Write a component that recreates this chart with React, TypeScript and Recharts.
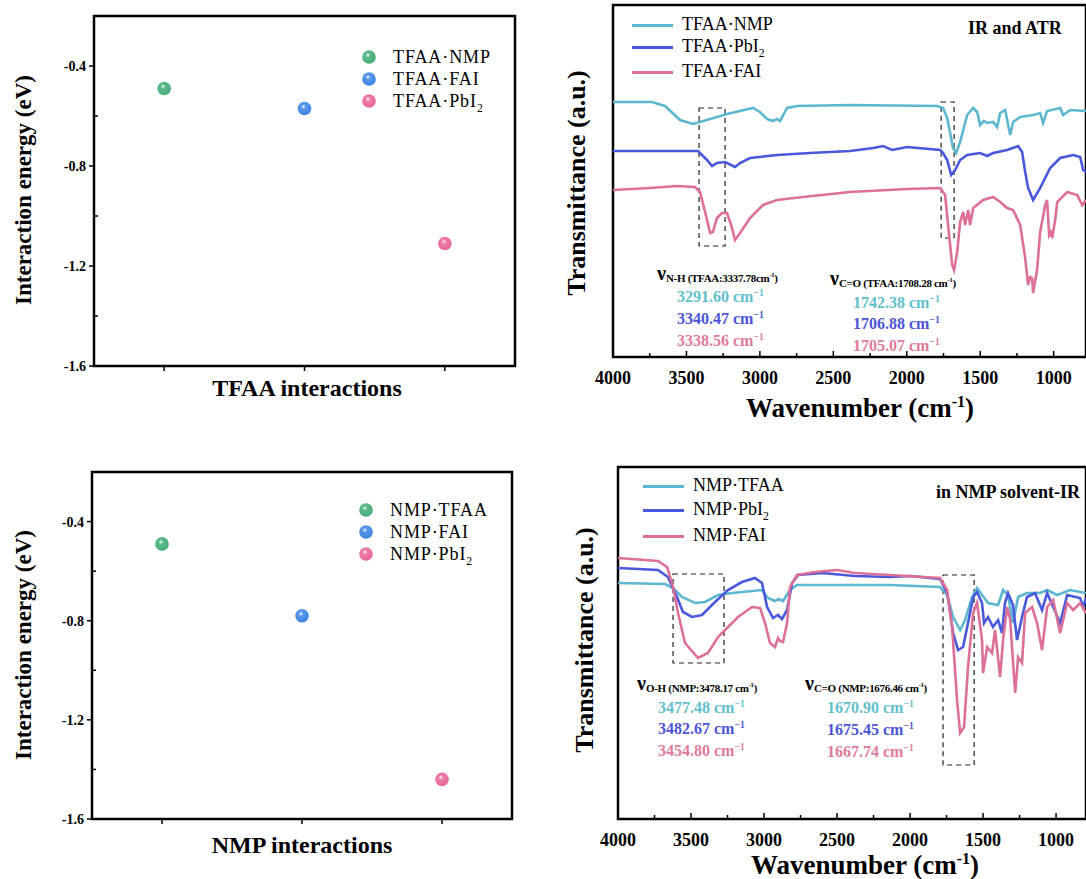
import React from 'react';
import { ScatterChart, Scatter, LineChart, Line, XAxis, YAxis, ReferenceArea } from 'recharts';

const FONT = '"Liberation Serif", "Times New Roman", serif';

// interaction energies (eV)
const tfaaPairs = ['TFAA·NMP', 'TFAA·FAI', 'TFAA·PbI2'];
const tfaaEnergy = [-0.49, -0.57, -1.11];
const nmpPairs = ['NMP·TFAA', 'NMP·FAI', 'NMP·PbI2'];
const nmpEnergy = [-0.49, -0.78, -1.44];
const sphereColors = ['#43ae78', '#3b84e4', '#e9669a'];
const energyTicks = [-1.6, -1.4, -1.2, -1.0, -0.8, -0.6, -0.4];

// IR spectra: [wavenumber (cm-1), transmittance (a.u.)]
const waveTicks = [4000, 3750, 3500, 3250, 3000, 2750, 2500, 2250, 2000, 1750, 1500, 1250, 1000];
const specColors = ['#5db7cf', '#4a58dc', '#dd7099'];
const valueColors = ['#62c0cc', '#4b55d6', '#df7b9c'];

const tfaaNmp = [[4000,255],[3734,255],[3646,251],[3544,237],[3455,233],[3408,235],[3224,243],[3047,249],[3000,245],[2951,238],[2910,236],[2883,238],[2863,236],[2815,249],[2747,251],[2386,252],[1794,251],[1753,249],[1725,239],[1685,209],[1664,204],[1637,215],[1589,242],[1548,249],[1521,245],[1501,232],[1475,236],[1453,234],[1412,235],[1385,230],[1364,244],[1330,247],[1296,222],[1276,235],[1228,240],[1140,242],[1092,244],[1072,234],[1045,246],[956,249],[936,242],[888,247],[780,246]];
const tfaaPbI2 = [[4000,206],[3421,206],[3360,197],[3326,191],[3292,194],[3237,195],[3169,190],[3135,194],[3067,199],[2883,202],[2658,204],[2386,206],[2229,209],[2161,211],[2100,207],[1998,210],[1773,207],[1753,204],[1725,197],[1698,182],[1671,187],[1637,197],[1589,202],[1501,204],[1453,201],[1412,204],[1317,207],[1242,211],[1215,205],[1194,185],[1174,169],[1140,157],[1092,169],[1024,189],[956,199],[867,202],[820,200],[799,187],[780,185]];
const tfaaFai = [[4000,167],[3748,169],[3564,171],[3442,170],[3408,165],[3373,145],[3339,124],[3320,125],[3292,139],[3258,144],[3224,144],[3196,132],[3169,117],[3135,124],[3067,139],[2979,152],[2883,157],[2706,160],[2386,165],[1998,168],[1773,169],[1739,162],[1719,132],[1691,92],[1678,87],[1657,105],[1637,135],[1616,145],[1603,132],[1582,147],[1569,132],[1548,149],[1480,157],[1412,160],[1364,155],[1317,149],[1276,147],[1228,132],[1194,99],[1174,72],[1160,80],[1147,79],[1140,64],[1113,87],[1092,125],[1058,152],[1045,157],[1031,122],[1020,125],[1010,119],[990,137],[976,155],[908,165],[840,162],[806,152],[780,157]];

const nmpTfaa = [[4000,236],[3678,235],[3623,231],[3562,222],[3473,216],[3404,217],[3315,224],[3219,226],[3014,229],[2973,221],[2925,218],[2900,220],[2870,218],[2822,229],[2774,234],[2377,234],[2137,234],[1794,232],[1746,224],[1705,202],[1657,189],[1623,199],[1575,222],[1541,231],[1507,224],[1466,216],[1397,214],[1363,229],[1329,224],[1295,196],[1260,222],[1199,226],[1110,226],[1061,229],[993,224],[904,229],[795,226]];
const nmpPbI2 = [[4000,251],[3726,249],[3658,242],[3596,222],[3555,207],[3493,202],[3425,204],[3336,217],[3247,229],[3151,237],[3062,241],[3014,236],[2979,212],[2938,201],[2904,204],[2877,200],[2842,209],[2808,236],[2767,244],[2603,246],[2377,243],[2137,242],[2000,243],[1794,240],[1746,226],[1705,186],[1671,169],[1637,172],[1603,196],[1568,222],[1541,227],[1507,216],[1493,196],[1466,202],[1432,192],[1397,199],[1370,186],[1350,216],[1329,226],[1295,214],[1267,179],[1233,202],[1199,222],[1144,226],[1096,209],[1061,226],[972,196],[924,224],[835,221],[815,212],[795,221]];
const nmpFai = [[4000,261],[3726,258],[3664,252],[3623,232],[3589,206],[3541,176],[3452,161],[3384,166],[3315,182],[3267,189],[3178,202],[3082,212],[3027,211],[2993,196],[2959,176],[2925,172],[2904,181],[2890,178],[2870,177],[2842,196],[2822,232],[2774,244],[2650,247],[2500,249],[2377,246],[2137,244],[1794,241],[1746,229],[1712,192],[1678,119],[1657,86],[1630,92],[1603,152],[1568,206],[1541,216],[1507,179],[1500,146],[1472,172],[1438,166],[1418,189],[1383,142],[1363,179],[1335,212],[1315,200],[1280,126],[1260,162],[1233,156],[1212,206],[1164,212],[1130,196],[1096,169],[1061,212],[1020,219],[972,186],[924,216],[883,209],[835,216],[795,206]];

const tfaaSpecNames = ['TFAA·NMP', 'TFAA·PbI2', 'TFAA·FAI'];
const nmpSpecNames = ['NMP·TFAA', 'NMP·PbI2', 'NMP·FAI'];
const nhPeaks = ['3291.60', '3340.47', '3338.56'];
const coTfaaPeaks = ['1742.38', '1706.88', '1705.07'];
const ohPeaks = ['3477.48', '3482.67', '3454.80'];
const coNmpPeaks = ['1670.90', '1675.45', '1667.74'];

const toPts = (arr: number[][]) => arr.map(([wn, t]) => ({ wn, t }));

const Name = ({ text }: { text: string }) =>
  text.endsWith('PbI2') ? (
    <>{text.slice(0, -1)}<sub style={{ fontSize: '0.65em', lineHeight: 0 }}>2</sub></>
  ) : (
    <>{text}</>
  );

const Sphere = ({ cx, cy, color, id, r = 6.8 }: any) => (
  <g>
    <defs>
      <radialGradient id={id} cx="42%" cy="36%" r="62%">
        <stop offset="0%" stopColor="#ffffff" stopOpacity={0.95} />
        <stop offset="28%" stopColor={color} stopOpacity={0.85} />
        <stop offset="100%" stopColor={color} />
      </radialGradient>
    </defs>
    <circle cx={cx} cy={cy} r={r} fill={`url(#${id})`} />
  </g>
);

const EnergyTick = (props: any) => {
  const { x, y, payload } = props;
  const v = payload.value;
  const major = Math.round(v * 10) % 4 === 0;
  if (!major) return <line x1={x} x2={x + 4} y1={y} y2={y} stroke="#000" strokeWidth={1.5} />;
  return (
    <g>
      <line x1={x - 5} x2={x} y1={y} y2={y} stroke="#000" strokeWidth={1.5} />
      <text x={x - 8} y={y + 5} textAnchor="end" fontFamily={FONT} fontWeight="bold" fontSize={14} fill="#000">
        {v.toFixed(1)}
      </text>
    </g>
  );
};

const PairTick = (props: any) => {
  const { x, y } = props;
  return <line x1={x} x2={x} y1={y} y2={y + 5} stroke="#000" strokeWidth={1.5} />;
};

const WaveTick = (props: any) => {
  const { x, y, payload } = props;
  const major = payload.value % 500 === 0;
  return (
    <g>
      <line x1={x} x2={x} y1={y} y2={y - (major ? 6 : 4)} stroke="#000" strokeWidth={1.5} />
      {major && (
        <text x={x} y={y + 27} textAnchor="middle" fontFamily={FONT} fontWeight="bold" fontSize={18} fill="#000">
          {payload.value}
        </text>
      )}
    </g>
  );
};

const abs = (left: number, top: number, extra: any = {}) => ({
  position: 'absolute' as const,
  left,
  top,
  whiteSpace: 'nowrap' as const,
  lineHeight: 1,
  fontFamily: FONT,
  ...extra,
});

const VTitle = ({ cx, cy, size, children }: any) => (
  <div style={abs(cx, cy, { fontSize: size, fontWeight: 'bold', transform: 'translate(-50%, -50%) rotate(-90deg)' })}>
    {children}
  </div>
);

const HTitle = ({ cx, cy, size, children }: any) => (
  <div style={abs(cx, cy, { fontSize: size, fontWeight: 'bold', transform: 'translate(-50%, -50%)' })}>{children}</div>
);

const sup = { fontSize: '0.6em', verticalAlign: 'super', lineHeight: 0 };

const EnergyPanel = ({ top, names, energies, plot, legend, title, idPrefix }: any) => (
  <>
    <div style={{ position: 'absolute', left: 0, top }}>
      <ScatterChart width={530} height={plot.h} margin={plot.margin}>
        <XAxis type="number" dataKey="x" domain={[0, 3]} ticks={[0.5, 1.5, 2.5]} tick={<PairTick />}
          tickLine={false} axisLine={false} tickSize={0} tickMargin={0} height={30} interval={0} />
        <YAxis type="number" dataKey="y" domain={[-1.6, -0.2]} ticks={energyTicks} tick={<EnergyTick />}
          tickLine={false} axisLine={false} tickSize={0} tickMargin={0} width={50} interval={0} />
        <ReferenceArea x1={0} x2={3} y1={-1.6} y2={-0.2} fill="none" stroke="#000" strokeWidth={2.5} />
        {names.map((n: string, i: number) => (
          <Scatter key={n} name={n} data={[{ x: i + 0.5, y: energies[i] }]} isAnimationActive={false}
            shape={(p: any) => <Sphere cx={p.cx} cy={p.cy} color={sphereColors[i]} id={`${idPrefix}${i}`} />} />
        ))}
      </ScatterChart>
    </div>
    {names.map((n: string, i: number) => (
      <React.Fragment key={n}>
        <svg style={{ position: 'absolute', left: legend.x - 8, top: top + legend.y + i * 22 - 8 }} width={16} height={16}>
          <Sphere cx={8} cy={8} color={sphereColors[i]} id={`${idPrefix}l${i}`} />
        </svg>
        <div style={abs(legend.x + 24, top + legend.y + i * 22 - 9, { fontSize: 18, letterSpacing: 0.9 })}>
          <Name text={n} />
        </div>
      </React.Fragment>
    ))}
    <VTitle cx={23} cy={top + plot.ycenter} size={23}>Interaction energy (eV)</VTitle>
    <HTitle cx={plot.tx} cy={top + plot.ty} size={24}>{title}</HTitle>
  </>
);

const SpecPanel = ({ left, top, plot, series, names, boxes, legend, tag, groups }: any) => (
  <>
    <div style={{ position: 'absolute', left, top }}>
      <LineChart width={526} height={plot.h} margin={plot.margin}>
        <XAxis type="number" dataKey="wn" domain={[plot.wnEnd, 4000]} reversed allowDataOverflow ticks={waveTicks}
          tick={<WaveTick />} tickLine={false} axisLine={false} tickSize={0} tickMargin={0} height={plot.axisH} interval={0} />
        <YAxis type="number" hide domain={[0, 352]} allowDataOverflow />
        <ReferenceArea x1={plot.wnEnd} x2={4000} y1={0} y2={352} fill="none" stroke="#000" strokeWidth={2.5} />
        {boxes.map((b: number[], i: number) => (
          <ReferenceArea key={i} x1={b[0]} x2={b[1]} y1={b[2]} y2={b[3]} fill="none" stroke="#222"
            strokeWidth={1.2} strokeDasharray="5 4" />
        ))}
        {series.map((s: number[][], i: number) => (
          <Line key={i} data={toPts(s)} dataKey="t" type="linear" stroke={specColors[i]} strokeWidth={2.6}
            dot={false} isAnimationActive={false} />
        ))}
      </LineChart>
    </div>
    {names.map((n: string, i: number) => (
      <React.Fragment key={n}>
        <div style={{ position: 'absolute', left: legend.x, top: legend.ys[i] - 1.5, width: 41, height: 3.5, background: specColors[i] }} />
        <div style={abs(legend.x + 50, legend.ys[i] - 10, { fontSize: 18 })}><Name text={n} /></div>
      </React.Fragment>
    ))}
    <div style={abs(tag.x, tag.y - 9, { fontSize: 18, fontWeight: 'bold' })}>{tag.text}</div>
    {groups.map((g: any, gi: number) => (
      <React.Fragment key={gi}>
        <div style={abs(g.hx, g.hy - 14, { fontWeight: 'bold' })}>
          <span style={{ fontSize: 20 }}>ν</span>
          <span style={{ fontSize: 11, position: 'relative', top: 2, letterSpacing: -0.3 }}>
            {g.bond} ({g.ref}<sup style={sup}>-1</sup>)
          </span>
        </div>
        {g.values.map((v: string, i: number) => (
          <div key={v} style={abs(g.vx, g.vys[i] - 7, { fontSize: 16, fontWeight: 'bold', color: valueColors[i] })}>
            {v} cm<sup style={sup}>−1</sup>
          </div>
        ))}
      </React.Fragment>
    ))}
    <VTitle cx={plot.ylx} cy={top + plot.ylc} size={26}>Transmittance (a.u.)</VTitle>
    <HTitle cx={plot.xlx} cy={top + plot.xly} size={27}>Wavenumber (cm<sup style={sup}>-1</sup>)</HTitle>
  </>
);

export default function App() {
  return (
    <div style={{ position: 'absolute', left: 0, top: 0, width: 1086, height: 879, overflow: 'hidden', background: '#fff', fontFamily: FONT }}>
      <EnergyPanel top={0} names={tfaaPairs} energies={tfaaEnergy} idPrefix="ta"
        plot={{ h: 420, margin: { top: 16, right: 15, bottom: 24, left: 44 }, ycenter: 190, tx: 307, ty: 388 }}
        legend={{ x: 369, y: 57 }} title="TFAA interactions" />
      <EnergyPanel top={440} names={nmpPairs} energies={nmpEnergy} idPrefix="nm"
        plot={{ h: 439, margin: { top: 32, right: 18, bottom: 30, left: 42 }, ycenter: 205, tx: 302, ty: 405 }}
        legend={{ x: 366, y: 70 }} title="NMP interactions" />

      <SpecPanel left={560} top={0} series={[tfaaNmp, tfaaPbI2, tfaaFai]} names={tfaaSpecNames}
        plot={{ h: 420, margin: { top: 5, right: 0, left: 53, bottom: 0 }, axisH: 63, wnEnd: 780, ylx: 577, ylc: 183, xlx: 860, xly: 408 }}
        boxes={[[3414, 3237, 111, 249], [1766, 1678, 119, 255]]}
        legend={{ x: 632, ys: [25, 47, 72] }}
        tag={{ x: 968, y: 28, text: 'IR and ATR' }}
        groups={[
          { hx: 657, hy: 277, bond: 'N-H', ref: 'TFAA:3337.78cm', vx: 677, vys: [296, 318, 340], values: nhPeaks },
          { hx: 830, hy: 282, bond: 'C=O', ref: 'TFAA:1708.28 cm', vx: 853, vys: [302, 323, 345], values: coTfaaPeaks },
        ]} />

      <SpecPanel left={560} top={460} series={[nmpTfaa, nmpPbI2, nmpFai]} names={nmpSpecNames}
        plot={{ h: 419, margin: { top: 7, right: 0, left: 58, bottom: 0 }, axisH: 60, wnEnd: 795, ylx: 585, ylc: 180, xlx: 865, xly: 405 }}
        boxes={[[3623, 3274, 156, 245], [1774, 1561, 54, 244]]}
        legend={{ x: 643, ys: [486, 510, 536] }}
        tag={{ x: 936, y: 492, text: 'in NMP solvent-IR' }}
        groups={[
          { hx: 637, hy: 687, bond: 'O-H', ref: 'NMP:3478.17 cm', vx: 658, vys: [707, 728, 750], values: ohPeaks },
          { hx: 805, hy: 687, bond: 'C=O', ref: 'NMP:1676.46 cm', vx: 827, vys: [707, 729, 751], values: coNmpPeaks },
        ]} />
    </div>
  );
}
